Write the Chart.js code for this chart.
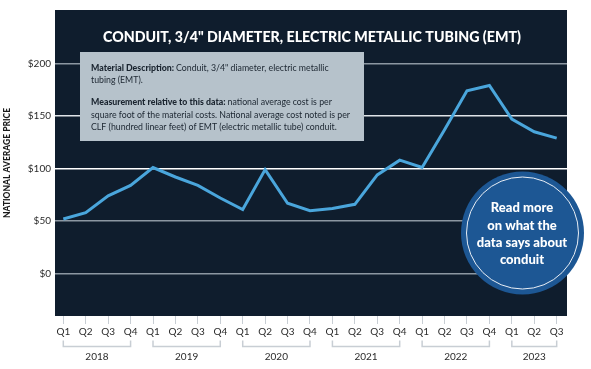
<!DOCTYPE html>
<html><head><meta charset="utf-8">
<script src="https://cdn.jsdelivr.net/npm/chart.js@4.4.1/dist/chart.umd.min.js"></script>
<style>html,body{margin:0;padding:0;background:#fff;}canvas{display:block;}</style>
</head><body>
<canvas id="c" width="591" height="369"></canvas>
<script>
// ---- data ----
const quarters = ['Q1','Q2','Q3','Q4','Q1','Q2','Q3','Q4','Q1','Q2','Q3','Q4','Q1','Q2','Q3','Q4','Q1','Q2','Q3','Q4','Q1','Q2','Q3'];
const years = ['2018','2019','2020','2021','2022','2023'];
const prices = [52,58,74,84,101,92,84,72,61,99,67,60,62,66,94,108,101,137,174,179,147,135,129];
const yTickValues = [0,50,100,150,200];
const titleText = 'CONDUIT, 3/4" DIAMETER, ELECTRIC METALLIC TUBING (EMT)';
const yAxisTitle = 'NATIONAL AVERAGE PRICE';
const noteLines = [
  [['b','Material Description: '],['r','Conduit, 3/4" diameter, electric metallic']],
  [['r','tubing (EMT).']],
  [['b','Measurement relative to this data: '],['r','national average cost is per']],
  [['r','square foot of the material costs. National average cost noted is per']],
  [['r','CLF (hundred linear feet) of EMT (electric metallic tube) conduit.']]
];
const calloutLines = ['Read more','on what the','data says about','conduit'];

const FONT = 'Lato';

function fitDraw(ctx, text, x, y, targetW, font, align) {
  ctx.font = font;
  const w = ctx.measureText(text).width;
  const sx = Math.min(1, targetW / w);
  ctx.save();
  ctx.translate(x, y);
  ctx.scale(sx, 1);
  ctx.textAlign = align;
  ctx.fillText(text, 0, 0);
  ctx.restore();
}

const decor = {
  id: 'decor',
  beforeDraw(chart) {
    const {ctx, chartArea: a} = chart;
    ctx.save();
    ctx.fillStyle = '#ffffff';
    ctx.fillRect(0, 0, chart.width, chart.height);
    ctx.fillStyle = '#0f1d2d';
    ctx.fillRect(a.left, a.top, a.right - a.left, a.bottom - a.top);
    ctx.restore();
  },
  afterDraw(chart) {
    const {ctx} = chart;
    const xs = chart.scales.x;
    ctx.save();
    ctx.textBaseline = 'middle';
    // title
    ctx.fillStyle = '#ffffff';
    fitDraw(ctx, titleText, 312, 37, 418, '900 15.5px ' + FONT, 'center');

    // info box
    ctx.fillStyle = '#b6c2cb';
    ctx.fillRect(80, 52, 284, 89);
    const ys = [68, 80, 102.5, 115, 127];
    const reg = '9px ' + FONT, bold = '900 9px ' + FONT;
    ctx.font = reg;
    const sx = Math.min(1, 259 / ctx.measureText(noteLines[3][0][1]).width);
    ctx.fillStyle = '#1b2530';
    ctx.textAlign = 'left';
    noteLines.forEach((runs, i) => {
      let x = 91;
      runs.forEach(([w, t]) => {
        ctx.font = w === 'b' ? bold : reg;
        const tw = ctx.measureText(t).width * sx;
        ctx.save();
        ctx.translate(x, ys[i]);
        ctx.scale(sx, 1);
        ctx.fillText(t, 0, 0);
        ctx.restore();
        x += tw;
      });
    });

    // callout circle
    ctx.beginPath();
    ctx.arc(522.5, 233, 61.5, 0, Math.PI * 2);
    ctx.fillStyle = '#1d5794';
    ctx.fill();
    ctx.beginPath();
    ctx.arc(522.5, 233, 56, 0, Math.PI * 2);
    ctx.strokeStyle = '#e8eef5';
    ctx.lineWidth = 1;
    ctx.stroke();
    ctx.fillStyle = '#ffffff';
    const cy = [208, 225.5, 243, 260];
    calloutLines.forEach((t, i) => {
      fitDraw(ctx, t, 522, cy[i], i === 2 ? 93 : 200, '900 13px ' + FONT, 'center');
    });

    // year brackets
    ctx.strokeStyle = '#c8ced4';
    ctx.lineWidth = 1.5;
    ctx.fillStyle = '#2b2b2b';
    ctx.font = '10px ' + FONT;
    ctx.textAlign = 'center';
    years.forEach((yr, i) => {
      const s = i * 4, e = Math.min(i * 4 + 3, quarters.length - 1);
      const x1 = xs.getPixelForValue(s), x2 = xs.getPixelForValue(e);
      ctx.beginPath();
      ctx.moveTo(x1, 340.5);
      ctx.lineTo(x1, 346.5);
      ctx.lineTo(x2, 346.5);
      ctx.lineTo(x2, 340.5);
      ctx.stroke();
      ctx.fillText(yr, (x1 + x2) / 2, 357);
    });

    // y axis title
    ctx.save();
    ctx.translate(7, 163);
    ctx.rotate(-Math.PI / 2);
    ctx.fillStyle = '#1a1a1a';
    ctx.font = '900 8.5px ' + FONT;
    ctx.textAlign = 'center';
    ctx.fillText(yAxisTitle, 0, 0);
    ctx.restore();

    ctx.restore();
  }
};

new Chart(document.getElementById('c').getContext('2d'), {
  type: 'line',
  data: {
    datasets: [{
      data: prices.map((v, i) => ({x: i, y: v})),
      borderColor: '#4aa6dc',
      borderWidth: 3,
      pointRadius: 0,
      tension: 0,
      fill: false
    }]
  },
  options: {
    responsive: false,
    animation: false,
    devicePixelRatio: 1,
    layout: {padding: {top: 8, right: 24, bottom: 0, left: 0}},
    plugins: {legend: {display: false}, tooltip: {enabled: false}, title: {display: false}},
    scales: {
      x: {
        type: 'linear',
        min: -0.37,
        max: 22.46,
        afterBuildTicks: s => { s.ticks = quarters.map((q, i) => ({value: i})); },
        afterFit: s => { s.height = 53; },
        ticks: {
          autoSkip: false, maxRotation: 0, minRotation: 0,
          callback: v => quarters[v],
          font: {family: FONT, size: 10},
          color: '#2b2b2b',
          padding: 2
        },
        grid: {drawOnChartArea: false, drawTicks: true, tickLength: 8, color: '#c8ced4', lineWidth: 1},
        border: {display: false}
      },
      y: {
        min: -40.2,
        max: 250.8,
        afterBuildTicks: s => { s.ticks = yTickValues.map(v => ({value: v})); },
        afterFit: s => { s.width = 55; },
        ticks: {
          callback: v => '$' + v,
          font: {family: FONT, size: 10},
          color: '#2b2b2b',
          padding: 4
        },
        grid: {
          drawTicks: false,
          lineWidth: 1.5,
          color: c => (c.tick && (c.tick.value === 100)) ? '#ffffff' : (c.tick && c.tick.value === 150 ? '#dfe4e8' : '#8c97a2')
        },
        border: {display: false}
      }
    }
  },
  plugins: [decor]
});
</script>
</body></html>
